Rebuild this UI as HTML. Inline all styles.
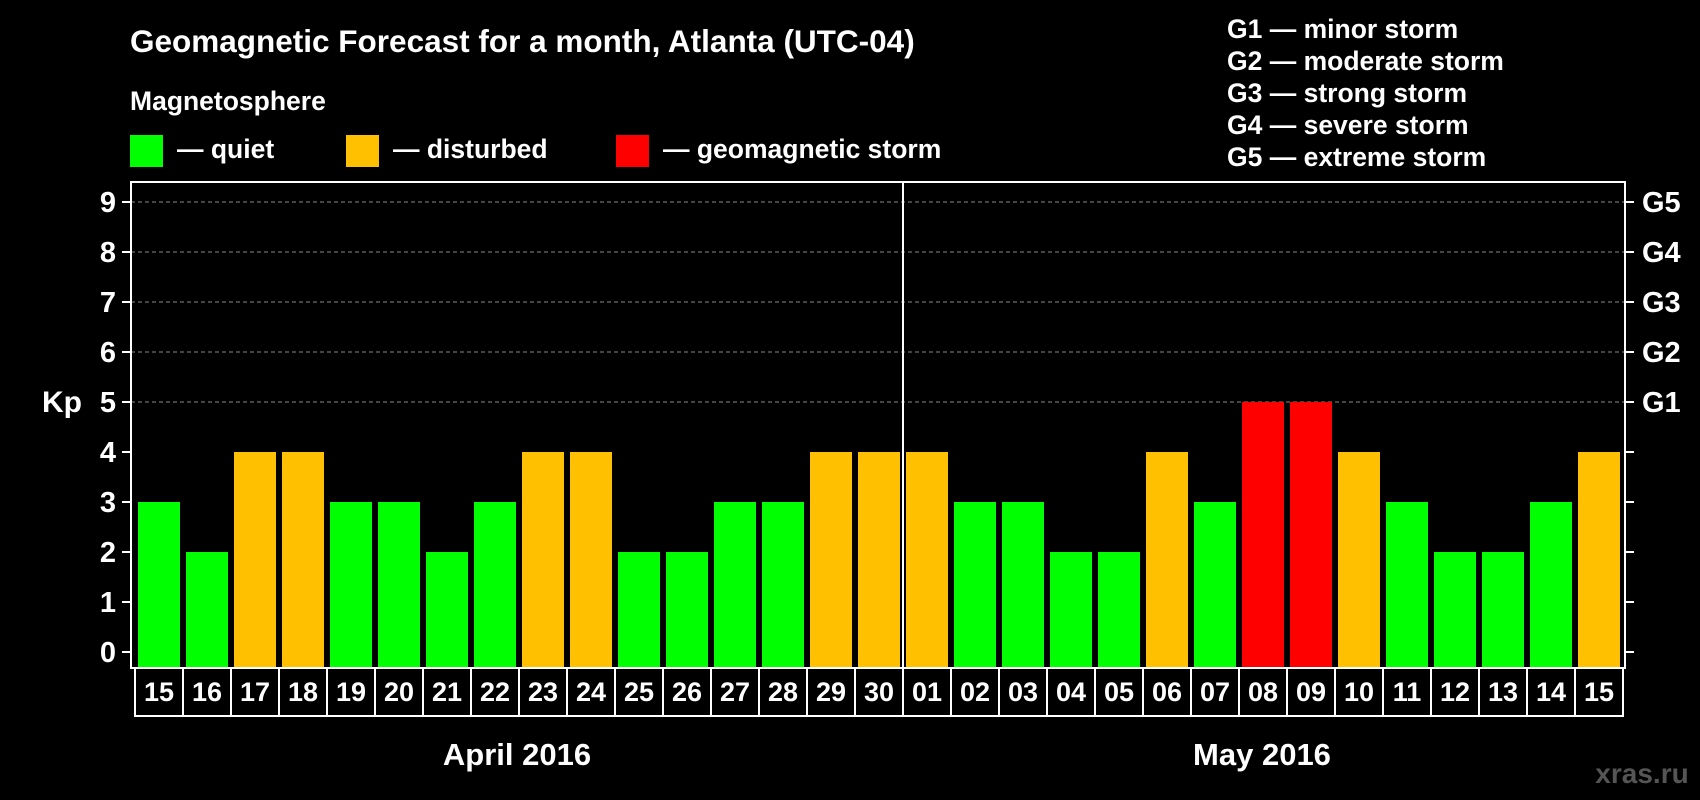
<!DOCTYPE html>
<html><head><meta charset="utf-8"><style>
html,body{margin:0;padding:0;background:#000;}
svg{display:block;font-family:"Liberation Sans",Arial,sans-serif;font-weight:bold;}
</style></head><body>
<svg id="chart" width="1700" height="800" viewBox="0 0 1700 800" xmlns="http://www.w3.org/2000/svg">
<rect width="1700" height="800" fill="#000"/>
<text x="130" y="52" fill="#fff" font-size="31.5">Geomagnetic Forecast for a month, Atlanta (UTC-04)</text>
<text x="130" y="110" fill="#fff" font-size="26.5">Magnetosphere</text>
<g><rect x="130" y="135" width="33" height="32" fill="#00ff00"/><text x="177" y="158" fill="#fff" font-size="26.5">— quiet</text></g>
<g><rect x="346" y="135" width="33" height="32" fill="#ffc000"/><text x="393" y="158" fill="#fff" font-size="26.5">— disturbed</text></g>
<g><rect x="616" y="135" width="33" height="32" fill="#ff0000"/><text x="663" y="158" fill="#fff" font-size="26.5">— geomagnetic storm</text></g>
<g fill="#fff" font-size="26.5">
<text x="1227" y="38">G1 — minor storm</text>
<text x="1227" y="70">G2 — moderate storm</text>
<text x="1227" y="102">G3 — strong storm</text>
<text x="1227" y="134">G4 — severe storm</text>
<text x="1227" y="166">G5 — extreme storm</text>
</g>
<text x="62" y="412" fill="#fff" font-size="30" text-anchor="middle">Kp</text>
<g id="grid"></g>
<g id="bars"></g>
<g id="axes"></g>
<text x="517" y="765" fill="#fff" font-size="31" text-anchor="middle">April 2016</text>
<text x="1262" y="765" fill="#fff" font-size="31" text-anchor="middle">May 2016</text>
<text x="1642" y="783" fill="#555" font-size="28" text-anchor="middle">xras.ru</text>
</svg>
<script>
const days = ["15","16","17","18","19","20","21","22","23","24","25","26","27","28","29","30","01","02","03","04","05","06","07","08","09","10","11","12","13","14","15"];
const kpValues = [3,2,4,4,3,3,2,3,4,4,2,2,3,3,4,4,4,3,3,2,2,4,3,5,5,4,3,2,2,3,4];
const yTicks = [0,1,2,3,4,5,6,7,8,9];
const gLabels = ["","","","","","G1","G2","G3","G4","G5"];
const NS="http://www.w3.org/2000/svg";
const L=131,R=1625,T=182,B=668,x0=138,step=48,bw=42;
function y(v){return 652-v*50;}
function xb(i){return x0+i*step;}
function col(v){return v>=5?"#ff0000":(v>=4?"#ffc000":"#00ff00");}
function mk(tag,attrs,parent){const e=document.createElementNS(NS,tag);for(const k in attrs)e.setAttribute(k,attrs[k]);parent.appendChild(e);return e;}
const grid=document.getElementById('grid'),bars=document.getElementById('bars'),axes=document.getElementById('axes');
yTicks.forEach(v=>{
  if(v>=5){const g=mk('line',{x1:L,x2:R,y1:y(v),y2:y(v),stroke:'#888','stroke-dasharray':'4,3','stroke-width':1},grid);
  
  }
  const t1=mk('line',{x1:122,x2:L,y1:y(v),y2:y(v),stroke:'#fff','stroke-width':2},axes);
  
  
  const t2=mk('line',{x1:R,x2:1634,y1:y(v),y2:y(v),stroke:'#fff','stroke-width':2},axes);
  
  
  const lb=mk('text',{x:116,y:y(v)+10,fill:'#fff','font-size':29,'text-anchor':'end'},axes);
  lb.textContent=v;
  
  
  if(gLabels[v]){const gl=mk('text',{x:1642,y:y(v)+10,fill:'#fff','font-size':29},axes);
  gl.textContent=gLabels[v];
  
  }
});
kpValues.forEach((v,i)=>{
  const r=mk('rect',{x:xb(i),y:y(v),width:bw,height:B-y(v),fill:col(v)},bars);
  
  
  const c=mk('rect',{x:xb(i)-3,y:B,width:step,height:48,fill:'none',stroke:'#fff','stroke-width':2},axes);
  
  
  const t=mk('text',{x:xb(i)+bw/2,y:B+33,fill:'#fff','font-size':27,'text-anchor':'middle'},axes);
  t.textContent=days[i];
  
  
});
const fr=mk('rect',{x:L,y:T,width:R-L,height:B-T,fill:'none',stroke:'#fff','stroke-width':2},axes);


const dv=mk('line',{x1:xb(16)-3,x2:xb(16)-3,y1:T,y2:B,stroke:'#fff','stroke-width':2},axes);


</script>
</body></html>
